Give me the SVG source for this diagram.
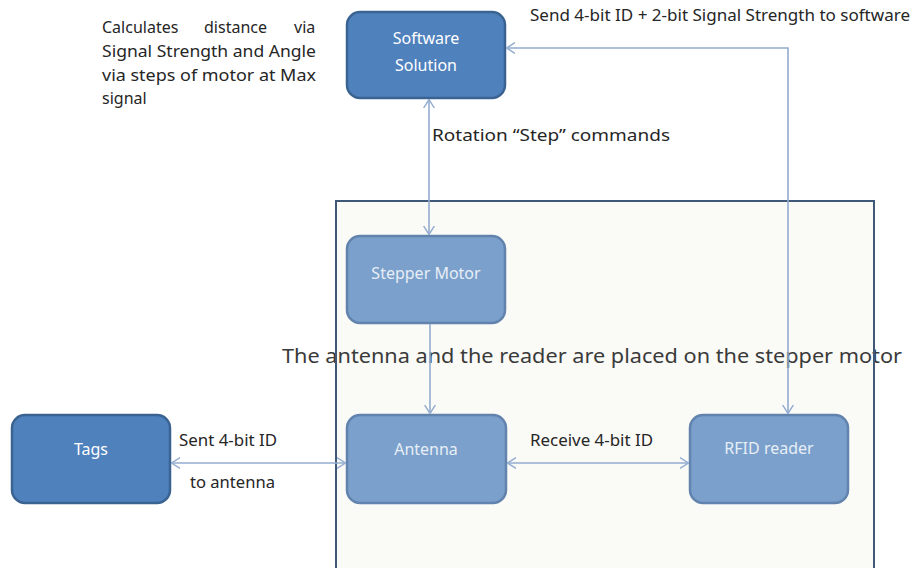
<svg xmlns="http://www.w3.org/2000/svg" width="916" height="568" viewBox="0 0 916 568">
<style>
.lbl{font-family:"Noto Sans","Liberation Sans",sans-serif;font-size:15.5px;fill:#262626}
.note{font-family:"Noto Sans","Liberation Sans",sans-serif;font-size:16px;fill:#262626}
.big{font-family:"Noto Sans","Liberation Sans",sans-serif;font-size:20px;fill:#3a3a3a}
.dark{fill:#4f81bd;stroke:#3b6392;stroke-width:2.5}
.light{fill:#7aa0cb;stroke:#6183ad;stroke-width:2.5}
.tw{font-family:"Noto Sans","Liberation Sans",sans-serif;font-size:16px;fill:#ffffff;text-anchor:middle}
.tl{font-family:"Noto Sans","Liberation Sans",sans-serif;font-size:16px;fill:#e8eef7;text-anchor:middle}
.con{fill:none;stroke:#93acd0;stroke-width:1.6}
</style>
<defs>
<marker id="ah" viewBox="0 0 10 12" refX="9.5" refY="6" markerWidth="9" markerHeight="12" markerUnits="userSpaceOnUse" orient="auto-start-reverse">
<path d="M0,0 L9.5,6 L0,12" fill="none" stroke="#93acd0" stroke-width="1.6"/>
</marker>
</defs>
<rect width="916" height="568" fill="#ffffff"/>
<g id="container">
<rect x="336" y="201" width="538" height="380" fill="#fafaf7"/>
</g>
<text class="big" x="282" y="363" textLength="620" lengthAdjust="spacingAndGlyphs">The antenna and the reader are placed on the stepper motor</text>
<rect x="336" y="201" width="538" height="380" fill="none" stroke="#3f5878" stroke-width="2"/>
<g id="note">
<text class="note" y="33"><tspan x="102">Calculates</tspan> <tspan x="204">distance</tspan> <tspan x="294">via</tspan></text>
<text class="note" x="102" y="57" textLength="214" lengthAdjust="spacingAndGlyphs">Signal Strength and Angle</text>
<text class="note" x="102" y="81" textLength="214" lengthAdjust="spacingAndGlyphs">via steps of motor at Max</text>
<text class="note" x="102" y="104">signal</text>
</g>
<g id="software">
<rect class="dark" x="347" y="12" width="158" height="86" rx="13"/>
<text class="tw" x="426" y="44">Software</text>
<text class="tw" x="426" y="71">Solution</text>
</g>
<g id="stepper">
<rect class="light" x="347" y="236" width="158" height="87" rx="13"/>
<text class="tl" x="426" y="279">Stepper Motor</text>
</g>
<g id="tags">
<rect class="dark" x="12" y="415" width="158" height="88" rx="13"/>
<text class="tw" x="91" y="455">Tags</text>
</g>
<g id="antenna">
<rect class="light" x="347" y="415" width="159" height="88" rx="13"/>
<text class="tl" x="426" y="455">Antenna</text>
</g>
<g id="rfid">
<rect class="light" x="690" y="415" width="158" height="88" rx="13"/>
<text class="tl" x="769" y="454">RFID reader</text>
</g>
<g id="connectors">
<line class="con" x1="429" y1="99.5" x2="429" y2="234.5" marker-start="url(#ah)" marker-end="url(#ah)"/>
<line class="con" x1="430" y1="324" x2="430" y2="413.5" marker-end="url(#ah)"/>
<line class="con" x1="171.5" y1="463" x2="345.5" y2="463" marker-start="url(#ah)" marker-end="url(#ah)"/>
<line class="con" x1="507.5" y1="463" x2="688.5" y2="463" marker-start="url(#ah)" marker-end="url(#ah)"/>
<path class="con" d="M788,413.5 V48 H506.5" marker-start="url(#ah)" marker-end="url(#ah)"/>
</g>
<g id="labels">
<text class="lbl" x="530" y="21" textLength="380" lengthAdjust="spacingAndGlyphs">Send 4-bit ID + 2-bit Signal Strength to software</text>
<text class="lbl" x="432" y="141" textLength="238" lengthAdjust="spacingAndGlyphs">Rotation “Step” commands</text>
<text class="lbl" x="179" y="446" textLength="98" lengthAdjust="spacingAndGlyphs">Sent 4-bit ID</text>
<text class="lbl" x="190" y="488" textLength="85" lengthAdjust="spacingAndGlyphs">to antenna</text>
<text class="lbl" x="530" y="446" textLength="123" lengthAdjust="spacingAndGlyphs">Receive 4-bit ID</text>
</g>
</svg>
